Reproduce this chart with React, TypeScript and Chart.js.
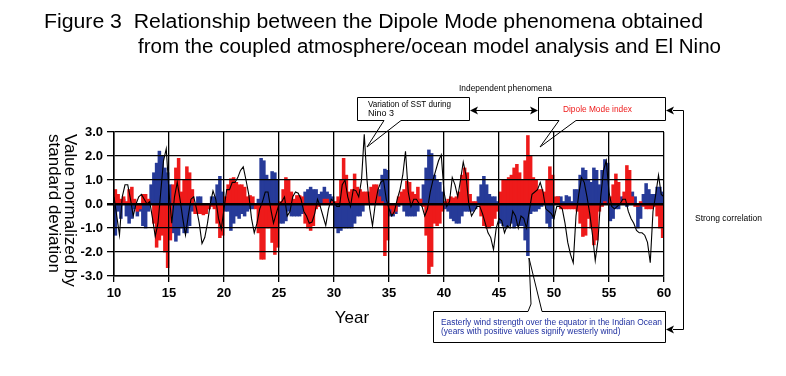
import React, { useEffect, useRef } from 'react';
import { Chart, registerables } from 'chart.js';

Chart.register(...registerables);

// ---------- data (quarterly samples, starting at year 10.0) ----------
const START_YEAR = 10;
const STEP = 0.25;
const X_MIN = 10;
const X_MAX = 60;
const X_STEP = 5;
const Y_MIN = -3;
const Y_MAX = 3;

const TITLE_LINES = [
  'Figure 3  Relationship between the Dipole Mode phenomena obtained',
  'from the coupled atmosphere/ocean model analysis and El Nino',
];
const X_TITLE = 'Year';
const Y_TITLE_LINES = ['Value normalized by', 'standard deviation'];
const WIND_NOTE = [
  'Easterly wind strength over the equator in the Indian Ocean',
  '(years with positive values signify westerly wind)',
];

// Dipole Mode index (red)
const dipoleModeIndex = [
  0.6, 0.4, 0.2, 0.3, 0.1, 0.6, 0.7, 0.2, -0.3, -0.2, 0.4, 0.4, 0.2, 0.0, -0.8, -1.8, -1.5, -1.3, -2.0, -2.65,
  -1.5, 0.8, 1.5, 1.9, 0.5, 1.0, 1.55, 1.3, 0.6, -0.4, -0.4, -0.4, -0.45, -0.4, -0.2, -0.1, -0.2, -0.8, -1.4, -1.3,
  0.3, 0.8, 1.05, 1.1, 0.9, 0.8, 0.8, 0.7, 0.3, 0.35, 0.3, -0.2, -1.2, -2.3, -2.3, -1.0, -1.0, -1.6, -2.1, -1.8,
  0.1, 0.6, 1.1, 1.0, 0.5, 0.2, 0.35, 0.35, 0.3, -0.8, -1.0, -1.1, -0.9, -0.2, -0.1, 0.0, 0.2, 0.2, 0.05, 0.1,
  0.1, 0.3, 1.0, 1.9, 1.2, 0.5, 0.6, 1.25, 0.7, 0.6, 0.5, 0.5, 0.5, 0.7, 0.8, 0.8, 0.3, 0.1, -2.15, -1.5,
  -0.2, -0.4, -0.3, 0.3, 0.5, 0.6, 0.95, 0.9, 0.5, 0.4, 0.7, 0.2, -0.1, -1.3, -2.9, -2.6, -0.8, -0.9, -0.8, -0.3,
  0.1, 0.2, 0.3, 0.25, 0.3, 0.5, 1.2, 1.5, 1.3, 0.4, 0.1, 0.1, 0.0, -0.5, -0.9, -1.0, -1.0, -0.9, -0.6, -0.3,
  0.5, 1.0, 1.0, 1.1, 1.2, 1.5, 1.65, 1.3, 1.0, 1.8, 2.85, 2.0, 1.1, 1.0, 0.6, 0.6, 0.5, 1.0, 1.55, 1.2,
  0.3, 0.3, -0.2, -0.2, -0.2, -0.2, -0.2, -0.2, -0.3, -0.8, -1.35, -1.3, -0.6, -1.0, -1.7, -1.5, -0.3, -0.1, 0.1, 0.0,
  0.3, 0.8, 1.25, 0.9, 0.1, 0.5, 1.6, 1.4, 0.3, -0.1, -0.1, 0.1, -0.1, -0.2, -0.2, -0.2, -0.1, -0.5, -1.0, -1.4,
];

// Easterly wind strength over the equatorial Indian Ocean (blue)
const windIndex = [
  -1.3, -0.3, -0.6, 0.2, -0.5, -0.8, -0.6, -0.2, -0.5, -0.3, -0.9, -1.0, -0.3, 0.8, 1.3, 1.7, 2.2, 2.0, 1.5, 1.3,
  0.8, -1.2, -1.55, -1.3, -1.0, -1.2, -1.2, -0.9, -0.3, -0.2, 0.3, 0.3, -0.3, -0.3, -0.2, 0.3, 0.3, 0.8, 1.15, 0.5,
  -0.3, -0.3, -1.1, -0.8, -0.5, -0.6, -0.4, -0.5, -0.3, -0.2, -0.2, -0.1, 0.2, 1.9, 1.8, 1.2, 1.0, 1.35, 1.3, 1.0,
  -0.8, -0.8, -0.7, -0.3, -0.5, -0.5, -0.5, -0.5, -0.4, 0.5, 0.6, 0.7, 0.6, 0.6, 0.4, 0.5, 0.7, 0.5, 0.4, 0.3,
  -1.0, -1.2, -1.1, -1.0, -1.0, -1.0, -1.0, -0.8, -0.5, -0.5, -0.3, 0.1, 0.2, 0.3, 0.2, 0.2, 0.6, 1.2, 1.45, 1.4,
  -0.5, -0.5, -0.4, -0.1, 0.1, -0.3, -0.5, -0.5, -0.5, -0.5, -0.3, 0.2, 0.8, 1.5, 2.25, 2.1, 1.2, 1.0, 0.9, 0.5,
  -0.2, -0.3, -0.6, -0.7, -0.8, -0.8, -0.5, -0.3, -0.3, -0.3, -0.3, -0.2, 0.3, 0.8, 1.15, 0.8, 0.4, 0.3, 0.3, 0.1,
  -0.8, -0.9, -1.0, -0.9, -0.8, -1.0, -0.9, -0.9, -0.9, -1.5, -2.15, -0.4, -0.3, -0.3, -0.2, -0.1, 0.1, -0.8, -1.0, -0.6,
  0.2, 0.3, 0.3, 0.1, 0.35, 0.3, 0.1, 0.6, 0.6, 1.2, 1.5, 1.4, 1.0, 0.9, 1.5, 1.4, 0.8, 1.4, 1.85, 1.7,
  -0.7, -0.6, -0.2, -0.2, 0.3, 0.3, -0.1, 0.3, 0.5, 0.3, -1.0, -0.6, 0.4, 0.85, 0.6, 0.4, 0.4, 0.7, 0.7, 0.5,
];

// Variation of SST during Nino 3 (black line), year 10.0 .. 60.0
const sstNino3 = [
  0.3, -0.5, -1.3, 0.3, 0.8, 0.8, 0.2, -0.5, 0.0, 0.3, 0.4, 0.2, 0.0, 0.1, -0.6, -1.35, -0.8, 0.5, 1.8, 2.3,
  0.5, -0.8, 0.3, 0.9, 0.2, -0.6, -1.3, -0.5, 0.2, 0.3, -0.2, -0.8, -1.65, -1.4, -0.8, 0.0, 0.55, 0.2, -0.6, -1.05,
  -0.2, 0.6, 0.6, 0.9, 0.9, 1.1, 1.4, 1.55, 1.0, 0.4, -0.6, -1.2, -0.8, -0.2, 0.1, 0.5, 0.5, -0.2, -0.8, -0.4,
  0.0, 0.1, 0.3, -0.5, -0.3, 0.3, 0.5, 0.45, 0.2, -0.3, -0.5, -0.8, -0.75, -0.4, 0.2, -0.1, -0.5, -0.9, -0.2, 0.2,
  0.1, -0.1, -0.1, 0.8, 1.0, 0.3, -0.1, 0.6, 0.55, 0.3, 1.0, 2.9, 1.0, -0.2, -0.9, 0.0, 0.6, 0.9, 1.0, 0.2,
  -0.2, -0.5, -0.3, 0.2, 0.6, 1.2, 2.2, 0.5, -0.1, 0.2, 0.2, 0.0, -0.1, -0.5, -0.2, 0.5, 1.0, 1.4, 1.8, 2.05,
  0.5, -0.1, 0.1, 1.1, 0.8, 0.3, 1.0, 1.75, 1.2, 0.0, -0.5, -0.3, -0.1, -0.1, -0.4, -0.8, -1.2, -1.4, -1.9, -1.0,
  -0.6, -0.7, -1.2, -0.9, -1.0, -0.3, -0.5, -1.0, -0.5, -0.6, -1.0, -0.3, 0.4, 0.5, 0.6, 0.9, 0.5, -0.2, -0.3, -0.4,
  -0.6, -0.1, -0.1, -0.2, -0.8, -1.6, -2.1, -2.45, -0.5, 0.4, 1.1, 0.9, 0.3, -0.4, -1.3, -2.35, -1.5, 0.3, 1.4, 1.8,
  0.5, -0.1, -0.2, -0.1, 0.0, 0.2, 0.2, -0.3, -0.6, -0.8, -1.1, -1.2, -1.2, -1.3, -1.6, -2.45, -0.3, 0.4, 1.2, 0.4,
  0.3,
];

const RED = '#ee1a1a';
const BLUE = '#263a98';
const TEXT_BLUE = '#1f30a0';
const FONT = '"Liberation Sans", Arial, Helvetica, sans-serif';

// ---------- drawing helpers ----------
function drawScaledText(ctx: CanvasRenderingContext2D, text: string, x: number, y: number, sx: number, font: string) {
  ctx.save();
  ctx.font = font;
  ctx.translate(x, y);
  ctx.scale(sx, 1);
  ctx.textAlign = 'left';
  ctx.textBaseline = 'middle';
  ctx.fillText(text, 0, 0);
  ctx.restore();
}

function fitText(ctx: CanvasRenderingContext2D, text: string, x: number, y: number, width: number, font: string) {
  ctx.save();
  ctx.font = font;
  const w = ctx.measureText(text).width;
  ctx.restore();
  drawScaledText(ctx, text, x, y, width / w, font);
  return width / w;
}

function arrowHead(ctx: CanvasRenderingContext2D, tipX: number, tipY: number, dir: number) {
  const len = 8;
  const half = 4;
  ctx.beginPath();
  ctx.moveTo(tipX, tipY);
  ctx.lineTo(tipX - dir * len, tipY - half);
  ctx.lineTo(tipX - dir * len * 0.75, tipY);
  ctx.lineTo(tipX - dir * len, tipY + half);
  ctx.closePath();
  ctx.fill();
}

const annotationPlugin = {
  id: 'figureAnnotations',
  afterDraw(chart: any) {
    const ctx: CanvasRenderingContext2D = chart.ctx;
    ctx.save();
    ctx.fillStyle = '#000';
    ctx.strokeStyle = '#000';

    // title
    fitText(ctx, TITLE_LINES[0], 44, 22, 659, `20px ${FONT}`);
    fitText(ctx, TITLE_LINES[1], 138, 47, 583, `20px ${FONT}`);

    // axis titles
    ctx.font = `17px ${FONT}`;
    ctx.textAlign = 'center';
    ctx.textBaseline = 'middle';
    ctx.fillText(X_TITLE, 352, 318);

    ctx.textAlign = 'left';
    ctx.save();
    ctx.translate(69.5, 134);
    ctx.rotate(Math.PI / 2);
    ctx.fillText(Y_TITLE_LINES[0], 0, 0);
    ctx.restore();
    ctx.save();
    ctx.translate(53.5, 134);
    ctx.rotate(Math.PI / 2);
    ctx.fillText(Y_TITLE_LINES[1], 0, 0);
    ctx.restore();

    // annotation texts
    const small = `8.5px ${FONT}`;
    fitText(ctx, 'Independent phenomena', 459, 89, 93, small);
    fitText(ctx, 'Variation of SST during', 368, 105, 83, small);
    fitText(ctx, 'Nino 3', 368, 113.5, 26, small);
    fitText(ctx, 'Strong correlation', 695, 219, 67, small);
    ctx.fillStyle = RED;
    fitText(ctx, 'Dipole Mode index', 563, 109.5, 69, small);
    ctx.fillStyle = TEXT_BLUE;
    const sx = fitText(ctx, WIND_NOTE[0], 441, 323, 221, small);
    drawScaledText(ctx, WIND_NOTE[1], 441, 332, sx, small);

    // callout boxes
    ctx.fillStyle = '#000';
    ctx.lineWidth = 1;
    ctx.beginPath();
    ctx.moveTo(384, 120.5);
    ctx.lineTo(357.5, 120.5);
    ctx.lineTo(357.5, 97.5);
    ctx.lineTo(469.5, 97.5);
    ctx.lineTo(469.5, 120.5);
    ctx.lineTo(401, 120.5);
    ctx.moveTo(384, 120.5);
    ctx.lineTo(367, 147);
    ctx.lineTo(401, 120.5);
    ctx.stroke();

    ctx.beginPath();
    ctx.moveTo(559, 120.5);
    ctx.lineTo(538.5, 120.5);
    ctx.lineTo(538.5, 97.5);
    ctx.lineTo(665.5, 97.5);
    ctx.lineTo(665.5, 120.5);
    ctx.lineTo(576, 120.5);
    ctx.moveTo(559, 120.5);
    ctx.lineTo(540, 147);
    ctx.lineTo(576, 120.5);
    ctx.stroke();

    ctx.beginPath();
    ctx.moveTo(528, 311.5);
    ctx.lineTo(433.5, 311.5);
    ctx.lineTo(433.5, 342.5);
    ctx.lineTo(665.5, 342.5);
    ctx.lineTo(665.5, 311.5);
    ctx.lineTo(542, 311.5);
    ctx.moveTo(528, 311.5);
    ctx.lineTo(531, 304);
    ctx.lineTo(529, 258);
    ctx.lineTo(542, 311.5);
    ctx.stroke();

    // arrows
    ctx.beginPath();
    ctx.moveTo(476, 110.5);
    ctx.lineTo(532, 110.5);
    ctx.moveTo(673, 110.5);
    ctx.lineTo(683.5, 110.5);
    ctx.lineTo(683.5, 329.5);
    ctx.lineTo(673, 329.5);
    ctx.stroke();
    arrowHead(ctx, 470, 110.5, -1);
    arrowHead(ctx, 538, 110.5, 1);
    arrowHead(ctx, 666, 110.5, -1);
    arrowHead(ctx, 666, 329.5, -1);

    ctx.restore();
  },
};

export default function App() {
  const canvasRef = useRef<HTMLCanvasElement>(null);

  useEffect(() => {
    document.body.style.margin = '0';
    const canvas = canvasRef.current;
    if (!canvas) return;

    const barPoints = (vals: number[]) => vals.map((v, i) => ({ x: START_YEAR + (i + 0.5) * STEP, y: v }));
    const linePoints = (vals: number[]) => vals.map((v, i) => ({ x: START_YEAR + i * STEP, y: v }));

    const chart = new Chart(canvas, {
      type: 'bar',
      data: {
        datasets: [
          {
            type: 'line',
            label: 'Variation of SST during Nino 3',
            data: linePoints(sstNino3),
            borderColor: '#000',
            borderWidth: 1.1,
            pointRadius: 0,
            tension: 0,
            fill: false,
            order: 0,
          } as any,
          {
            type: 'bar',
            label: 'Dipole Mode index',
            data: barPoints(dipoleModeIndex),
            backgroundColor: RED,
            borderWidth: 0,
            barPercentage: 1,
            categoryPercentage: 1,
            grouped: false,
            inflateAmount: 0.4,
            order: 1,
          } as any,
          {
            type: 'bar',
            label: 'Easterly wind strength',
            data: barPoints(windIndex),
            backgroundColor: BLUE,
            borderWidth: 0,
            barPercentage: 1,
            categoryPercentage: 1,
            grouped: false,
            inflateAmount: 0.4,
            order: 2,
          } as any,
        ],
      },
      options: {
        responsive: false,
        animation: false,
        devicePixelRatio: 1,
        layout: { padding: { left: 74, right: 122, top: 132, bottom: 70 } },
        plugins: {
          legend: { display: false },
          tooltip: { enabled: false },
          title: { display: false },
        },
        scales: {
          x: {
            type: 'linear',
            min: X_MIN,
            max: X_MAX,
            offset: false,
            afterFit: (s: any) => { s.height = 30; },
            grid: {
              offset: false,
              color: '#000',
              lineWidth: 1.3,
              tickLength: 6,
              tickColor: '#000',
              z: 1,
            },
            border: { display: true, color: '#000', width: 1.5, z: 1 },
            ticks: {
              stepSize: X_STEP,
              autoSkip: false,
              maxRotation: 0,
              padding: 4,
              color: '#000',
              font: { family: FONT, size: 13, weight: 'bold' },
              callback: (v: any) => String(v),
            },
          },
          y: {
            type: 'linear',
            min: Y_MIN,
            max: Y_MAX,
            afterFit: (s: any) => { s.width = 40; },
            grid: {
              color: '#000',
              lineWidth: (c: any) => (c.tick && c.tick.value === 0 ? 2.5 : 1.3),
              tickLength: 7,
              tickColor: '#000',
              z: 1,
            },
            border: { display: true, color: '#000', width: 1.5, z: 1 },
            ticks: {
              stepSize: 1,
              padding: 4,
              color: '#000',
              font: { family: FONT, size: 13, weight: 'bold' },
              callback: (v: any) => Number(v).toFixed(1),
            },
          },
        },
      } as any,
      plugins: [annotationPlugin],
    });

    return () => chart.destroy();
  }, []);

  return (
    <div style={{ position: 'relative', width: 786, height: 376, background: '#fff' }}>
      <canvas ref={canvasRef} width={786} height={376} style={{ display: 'block' }} />
    </div>
  );
}
